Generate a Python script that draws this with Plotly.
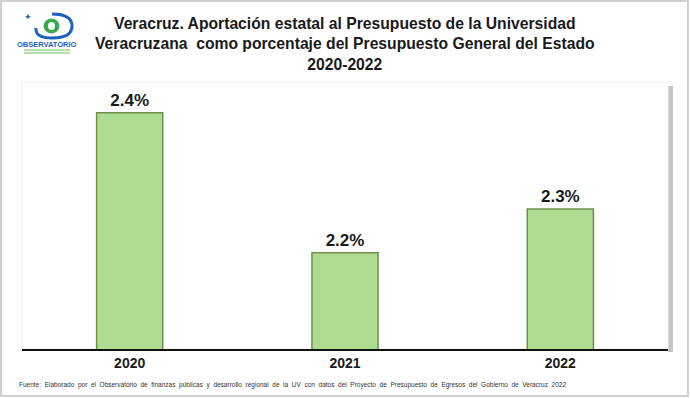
import plotly.graph_objects as go

years = ["2020", "2021", "2022"]
values = [2.43, 2.175, 2.255]
labels = ["2.4%", "2.2%", "2.3%"]
title_lines = [
    "Veracruz. Aportación estatal al Presupuesto de la Universidad",
    "Veracruzana  como porcentaje del Presupuesto General del Estado",
    "2020-2022",
]
source = ("Fuente:  Elaborado  por  el  Observatorio  de  finanzas  públicas  y  desarrollo  regional  de  la  UV  con  datos  del  "
          "Proyecto  de  Presupuesto  de  Egresos  del  Gobierno  de  Veracruz  2022")

W, H = 690, 398
L, R, T, B = 22, 22, 82, 49
PW, PH = W - L - R, H - T - B

def px(x):
    return (x - L) / PW

def py(y):
    return (H - B - y) / PH

fig = go.Figure()
fig.add_trace(go.Bar(
    x=years, y=values, base=0,
    width=0.307,
    marker=dict(color="#addb8f", line=dict(color="#6f8f4e", width=1.5)),
    text=labels, textposition="outside", cliponaxis=False,
    textfont=dict(family="Liberation Sans", size=17, color="#1a1a1a", weight="bold"),
    hoverinfo="skip",
))

shapes = [
    # outer frame
    dict(type="rect", xref="paper", yref="paper", x0=px(1), x1=px(688), y0=py(396), y1=py(1),
         line=dict(color="#d0d0d0", width=2), fillcolor="rgba(0,0,0,0)", layer="below"),
    # plot area shadow
    dict(type="rect", xref="paper", yref="paper", x0=px(668), x1=px(673), y0=py(352), y1=py(86),
         line=dict(width=0), fillcolor="#c4c4c4", layer="below"),
    dict(type="rect", xref="paper", yref="paper", x0=px(22), x1=px(668), y0=py(349), y1=py(82),
         line=dict(color="#f2f2f2", width=1), fillcolor="white", layer="below"),
    # logo
    dict(type="path", xref="paper", yref="paper",
         path=f"M {px(52)} {py(14)} Q {px(72)} {py(14)} {px(72)} {py(26)} Q {px(72)} {py(38)} {px(52)} {py(38)} Q {px(35)} {py(38)} {px(36)} {py(28)}",
         line=dict(color="#1f5fbf", width=3)),
    dict(type="circle", xref="paper", yref="paper", x0=px(44), x1=px(59), y0=py(33), y1=py(19),
         line=dict(color="#3aa64a", width=1), fillcolor="#3aa64a"),
    dict(type="circle", xref="paper", yref="paper", x0=px(48), x1=px(55), y0=py(30), y1=py(22),
         line=dict(width=0), fillcolor="white"),
    dict(type="line", xref="paper", yref="paper", x0=px(24), x1=px(70), y0=py(50), y1=py(50),
         line=dict(color="#6fbf5a", width=1)),
    dict(type="line", xref="paper", yref="paper", x0=px(24), x1=px(70), y0=py(53), y1=py(53),
         line=dict(color="#6fbf5a", width=1)),
]

annotations = [
    dict(text="<b>" + "<br>".join(title_lines) + "</b>", xref="paper", yref="paper",
         x=px(345), y=py(13), xanchor="center", yanchor="top", showarrow=False,
         font=dict(family="Liberation Sans", size=15.7, color="#1a1a1a"), align="center"),
    dict(text=source, xref="paper", yref="paper", x=px(17), y=py(385),
         xanchor="left", yanchor="middle", showarrow=False,
         font=dict(family="Liberation Sans Narrow, Liberation Sans", size=6.5, color="#333333")),
    dict(text="<b>OBSERVATORIO</b>", xref="paper", yref="paper", x=px(47), y=py(44),
         xanchor="center", yanchor="middle", showarrow=False,
         font=dict(family="Liberation Sans", size=7.5, color="#1f5fbf")),
    dict(text="✦", xref="paper", yref="paper", x=px(28), y=py(16),
         xanchor="center", yanchor="middle", showarrow=False,
         font=dict(size=9, color="#1f5fbf")),
]

fig.update_layout(
    width=W, height=H,
    margin=dict(l=L, r=R, t=T, b=B),
    paper_bgcolor="white", plot_bgcolor="rgba(0,0,0,0)",
    showlegend=False,
    bargap=0.69,
    shapes=shapes, annotations=annotations,
    xaxis=dict(showline=True, linecolor="#111111", linewidth=1.5, ticks="",
               tickfont=dict(family="Liberation Sans", size=14, color="#1a1a1a", weight="bold"),
               showgrid=False),
    yaxis=dict(range=[2.0, 2.486], visible=False, showgrid=False),
)

fig.write_html("out.html", config={"displayModeBar": False},
               post_script="document.body.style.margin='0px';")
